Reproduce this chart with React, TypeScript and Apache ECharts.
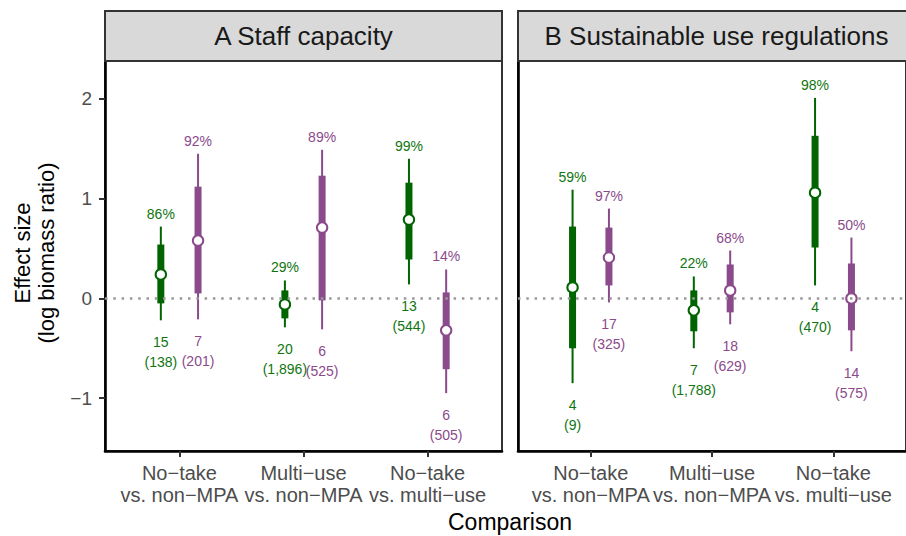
import React, { useEffect, useRef } from "react";
import * as echarts from "echarts";

// ---------- data ----------
const categories = ["No\u2212take\nvs. non\u2212MPA", "Multi\u2212use\nvs. non\u2212MPA", "No\u2212take\nvs. multi\u2212use"];
const panelTitles = ["A Staff capacity", "B Sustainable use regulations"];
const yTicks = [-1, 0, 1, 2];
const xTicks = [1, 2, 3];

// Panel A – green
const aGreenHi95 = [0.72, 0.18, 1.40];
const aGreenHi80 = [0.54, 0.08, 1.16];
const aGreenEst = [0.24, -0.06, 0.79];
const aGreenLo80 = [-0.05, -0.20, 0.39];
const aGreenLo95 = [-0.22, -0.29, 0.14];
const aGreenPct = ["86%", "29%", "99%"];
const aGreenN = ["15", "20", "13"];
const aGreenObs = ["138", "1,896", "544"];

// Panel A – purple
const aPurpleHi95 = [1.45, 1.49, 0.29];
const aPurpleHi80 = [1.12, 1.23, 0.06];
const aPurpleEst = [0.58, 0.71, -0.32];
const aPurpleLo80 = [0.05, -0.02, -0.71];
const aPurpleLo95 = [-0.21, -0.31, -0.95];
const aPurplePct = ["92%", "89%", "14%"];
const aPurpleN = ["7", "6", "6"];
const aPurpleObs = ["201", "525", "505"];

// Panel B – green
const bGreenHi95 = [1.09, 0.22, 2.01];
const bGreenHi80 = [0.72, 0.08, 1.63];
const bGreenEst = [0.11, -0.12, 1.06];
const bGreenLo80 = [-0.50, -0.33, 0.51];
const bGreenLo95 = [-0.85, -0.50, 0.13];
const bGreenPct = ["59%", "22%", "98%"];
const bGreenN = ["4", "7", "4"];
const bGreenObs = ["9", "1,788", "470"];

// Panel B – purple
const bPurpleHi95 = [0.90, 0.48, 0.61];
const bPurpleHi80 = [0.71, 0.34, 0.35];
const bPurpleEst = [0.41, 0.08, 0.00];
const bPurpleLo80 = [0.13, -0.14, -0.32];
const bPurpleLo95 = [-0.04, -0.26, -0.53];
const bPurplePct = ["97%", "68%", "50%"];
const bPurpleN = ["17", "18", "14"];
const bPurpleObs = ["325", "629", "575"];

// ---------- styling ----------
const FONT = "'Liberation Sans', Arial, Helvetica, sans-serif";
const GREEN = "#006400";
const GREEN_TEXT = "#107510";
const PURPLE = "#8b4a8b";
const PURPLE_TEXT = "#8b4a8b";
const DODGE = 0.15;

const panels = [
  { left: 105, title: panelTitles[0] },
  { left: 518, title: panelTitles[1] },
];
const GRID_TOP = 61;
const GRID_W = 397;
const GRID_H = 390;

function buildData(lo95: number[], lo80: number[], est: number[], hi80: number[], hi95: number[], offset: number) {
  return categories.map((_, i) => [i + 1 + offset, lo95[i], lo80[i], est[i], hi80[i], hi95[i]]);
}

function makeRender(color: string, textColor: string, pct: string[], n: string[], obs: string[]) {
  return (params: any, api: any) => {
    const x = api.value(0);
    const top = api.coord([x, api.value(5)]);
    const px = top[0];
    const pHi95 = top[1];
    const pLo95 = api.coord([x, api.value(1)])[1];
    const pLo80 = api.coord([x, api.value(2)])[1];
    const pEst = api.coord([x, api.value(3)])[1];
    const pHi80 = api.coord([x, api.value(4)])[1];
    const i = params.dataIndex;
    return {
      type: "group",
      children: [
        { type: "line", shape: { x1: px, y1: pHi95, x2: px, y2: pLo95 }, style: { stroke: color, lineWidth: 2 } },
        { type: "rect", shape: { x: px - 3.5, y: pHi80, width: 7, height: pLo80 - pHi80 }, style: { fill: color } },
        { type: "circle", shape: { cx: px, cy: pEst, r: 5.2 }, style: { fill: "#ffffff", stroke: color, lineWidth: 2 } },
        {
          type: "text",
          style: { text: pct[i], x: px, y: pHi95 - 13, align: "center", verticalAlign: "middle", fill: textColor, fontSize: 14, fontFamily: FONT },
        },
        {
          type: "text",
          style: {
            text: n[i] + "\n(" + obs[i] + ")",
            x: px,
            y: pLo95 + 12,
            align: "center",
            verticalAlign: "top",
            lineHeight: 20,
            fill: textColor,
            fontSize: 14,
            fontFamily: FONT,
          },
        },
      ],
    };
  };
}

export default function App() {
  const ref = useRef<HTMLDivElement>(null);
  useEffect(() => {
    document.body.style.margin = "0";
    if (!ref.current) return;
    const chart = echarts.init(ref.current, null, { renderer: "svg" });

    const grids = panels.map((p) => ({
      left: p.left,
      top: GRID_TOP,
      width: GRID_W,
      height: GRID_H,
      show: true,
      borderColor: "#333333",
      borderWidth: 2,
      backgroundColor: "transparent",
    }));

    const xAxes = panels.map((_, k) => ({
      type: "value",
      gridIndex: k,
      min: 0.4,
      max: 3.6,
      splitLine: { show: false },
      axisLine: { show: true, onZero: false, lineStyle: { color: "#000000", width: 2.6 } },
      axisTick: { show: true, customValues: xTicks, length: 6, lineStyle: { color: "#333333", width: 2 } },
      axisLabel: {
        show: true,
        customValues: xTicks,
        formatter: (v: number) => categories[Math.round(v) - 1] ?? "",
        color: "#4d4d4d",
        fontSize: 20,
        lineHeight: 22,
        margin: 11,
        fontFamily: FONT,
      },
    }));

    const yAxes = panels.map((_, k) => ({
      type: "value",
      gridIndex: k,
      min: -1.53,
      max: 2.38,
      splitLine: { show: false },
      axisLine: { show: true, onZero: false, lineStyle: { color: "#000000", width: 2.6 } },
      axisTick: { show: k === 0, customValues: yTicks, length: 6, lineStyle: { color: "#333333", width: 2 } },
      axisLabel: {
        show: k === 0,
        customValues: yTicks,
        formatter: (v: number) => (v < 0 ? "\u2212" + Math.abs(v) : String(v)),
        color: "#4d4d4d",
        fontSize: 19,
        margin: 13,
        fontFamily: FONT,
      },
    }));

    const zeroLines = panels.map((_, k) => ({
      type: "line",
      xAxisIndex: k,
      yAxisIndex: k,
      data: [],
      z: 1,
      silent: true,
      markLine: {
        silent: true,
        symbol: "none",
        label: { show: false },
        lineStyle: { color: "#999999", width: 2.6, type: [2.5, 5.8] },
        data: [{ yAxis: 0 }],
      },
    }));

    const sets = [
      { k: 0, off: -DODGE, color: GREEN, tc: GREEN_TEXT, d: [aGreenLo95, aGreenLo80, aGreenEst, aGreenHi80, aGreenHi95], pct: aGreenPct, n: aGreenN, obs: aGreenObs },
      { k: 0, off: DODGE, color: PURPLE, tc: PURPLE_TEXT, d: [aPurpleLo95, aPurpleLo80, aPurpleEst, aPurpleHi80, aPurpleHi95], pct: aPurplePct, n: aPurpleN, obs: aPurpleObs },
      { k: 1, off: -DODGE, color: GREEN, tc: GREEN_TEXT, d: [bGreenLo95, bGreenLo80, bGreenEst, bGreenHi80, bGreenHi95], pct: bGreenPct, n: bGreenN, obs: bGreenObs },
      { k: 1, off: DODGE, color: PURPLE, tc: PURPLE_TEXT, d: [bPurpleLo95, bPurpleLo80, bPurpleEst, bPurpleHi80, bPurpleHi95], pct: bPurplePct, n: bPurpleN, obs: bPurpleObs },
    ];

    const customSeries = sets.map((s) => ({
      type: "custom",
      xAxisIndex: s.k,
      yAxisIndex: s.k,
      z: 3,
      clip: false,
      silent: true,
      encode: { x: 0, y: [1, 2, 3, 4, 5] },
      data: buildData(s.d[0], s.d[1], s.d[2], s.d[3], s.d[4], s.off),
      renderItem: makeRender(s.color, s.tc, s.pct, s.n, s.obs),
    }));

    const graphics: any[] = [];
    panels.forEach((p) => {
      graphics.push({
        type: "rect",
        shape: { x: p.left, y: 11, width: GRID_W, height: 50 },
        style: { fill: "#d9d9d9", stroke: "#333333", lineWidth: 2 },
        z: 10,
      });
      graphics.push({
        type: "text",
        x: p.left + GRID_W / 2,
        y: 36,
        style: { text: p.title, align: "center", verticalAlign: "middle", fontSize: 26, fill: "#1a1a1a", fontFamily: FONT },
        z: 11,
      });
    });
    graphics.push({
      type: "text",
      x: 510,
      y: 522,
      style: { text: "Comparison", align: "center", verticalAlign: "middle", fontSize: 23, fill: "#000000", fontFamily: FONT },
    });
    graphics.push({
      type: "text",
      x: 34,
      y: 253,
      rotation: Math.PI / 2,
      style: {
        text: "Effect size\n(log biomass ratio)",
        align: "center",
        verticalAlign: "middle",
        lineHeight: 24,
        fontSize: 22,
        fill: "#000000",
        fontFamily: FONT,
      },
    });

    chart.setOption({
      animation: false,
      backgroundColor: "#ffffff",
      grid: grids,
      xAxis: xAxes,
      yAxis: yAxes,
      series: [...zeroLines, ...customSeries],
      graphic: graphics,
    });

    return () => chart.dispose();
  }, []);

  return <div ref={ref} style={{ position: "absolute", left: 0, top: 0, width: 906, height: 536 }} />;
}
